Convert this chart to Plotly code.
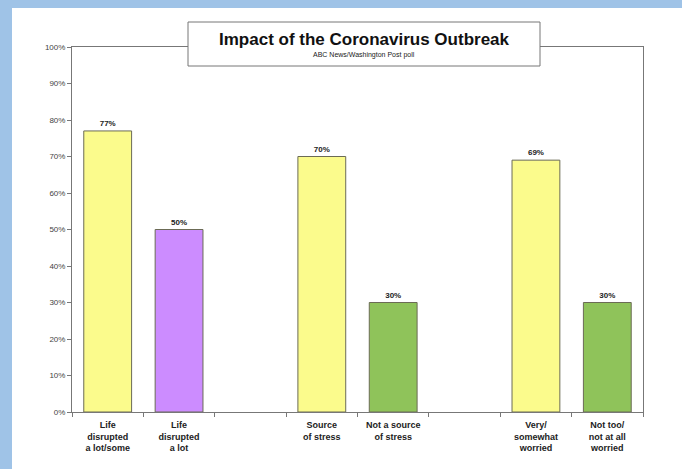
import plotly.graph_objects as go

categories = ["Life<br>disrupted<br>a lot/some", "Life<br>disrupted<br>a lot", "",
              "Source<br>of stress", "Not a source<br>of stress", "",
              "Very/<br>somewhat<br>worried", "Not too/<br>not at all<br>worried"]
values = [77, 50, None, 70, 30, None, 69, 30]
bar_colors = ["#fbfb8c", "#cc8cff", "#ffffff", "#fbfb8c", "#8fc35a", "#ffffff", "#fbfb8c", "#8fc35a"]
y_ticks = [0, 10, 20, 30, 40, 50, 60, 70, 80, 90, 100]

positions = list(range(len(categories)))
xs = [p for p, v in zip(positions, values) if v is not None]
ys = [v for v in values if v is not None]
cs = [c for c, v in zip(bar_colors, values) if v is not None]
labs = [t for t, v in zip(categories, values) if v is not None]

fig = go.Figure()
fig.add_trace(go.Bar(
    x=xs, y=ys, width=0.67,
    marker=dict(color=cs, line=dict(color="#6b6b55", width=1)),
    text=[f"<b>{v}%</b>" for v in ys], textposition="outside",
    textfont=dict(family="Arial", size=8, color="#222"),
    cliponaxis=False,
))

W, H = 682, 469
L, R, T, B = 72, 39, 47, 57
pw, ph = W - L - R, H - T - B

def px(x):
    return (x - L) / pw

def py(y):
    return (H - B - y) / ph

fig.update_layout(
    width=W, height=H,
    margin=dict(l=L, r=R, t=T, b=B),
    paper_bgcolor="#9fc3e7",
    plot_bgcolor="white",
    showlegend=False,
    bargap=0.33,
    xaxis=dict(
        range=[-0.5, len(categories) - 0.5],
        tickmode="array", tickvals=xs, ticktext=[f"<b>{t}</b>" for t in labs],
        ticks="", showgrid=False, zeroline=False,
        showline=True, linecolor="#777", linewidth=1, mirror=True,
        tickfont=dict(family="Arial", size=9, color="#222"),
        ticklabelstandoff=4,
        minor=dict(tickmode="array", tickvals=[p - 0.5 for p in positions] + [len(categories) - 0.5],
                   ticks="outside", ticklen=4, tickcolor="#777", showgrid=False),
        fixedrange=True,
    ),
    yaxis=dict(
        range=[0, 100],
        tickmode="array", tickvals=y_ticks, ticktext=[f"{v}%" for v in y_ticks],
        ticks="outside", ticklen=4, tickcolor="#777",
        showgrid=False, zeroline=False,
        showline=True, linecolor="#777", linewidth=1, mirror=True,
        tickfont=dict(family="Arial", size=8, color="#444"),
        fixedrange=True,
    ),
    shapes=[
        dict(type="rect", xref="paper", yref="paper", layer="below",
             x0=px(12), x1=px(W + 5), y0=py(H + 5), y1=py(8),
             fillcolor="white", line=dict(width=0)),
        dict(type="rect", xref="paper", yref="paper", layer="above",
             x0=px(188), x1=px(540), y0=py(66), y1=py(22),
             fillcolor="white", line=dict(color="#777", width=1)),
    ],
    annotations=[
        dict(xref="paper", yref="paper", x=px(364), y=py(39), yanchor="middle", xanchor="center",
             text="<b>Impact of the Coronavirus Outbreak</b>", showarrow=False,
             font=dict(family="Arial", size=17, color="#111")),
        dict(xref="paper", yref="paper", x=px(364), y=py(55), yanchor="middle", xanchor="center",
             text="ABC News/Washington Post poll", showarrow=False,
             font=dict(family="Arial", size=7, color="#222")),
    ],
)

fig.write_html("out.html")
